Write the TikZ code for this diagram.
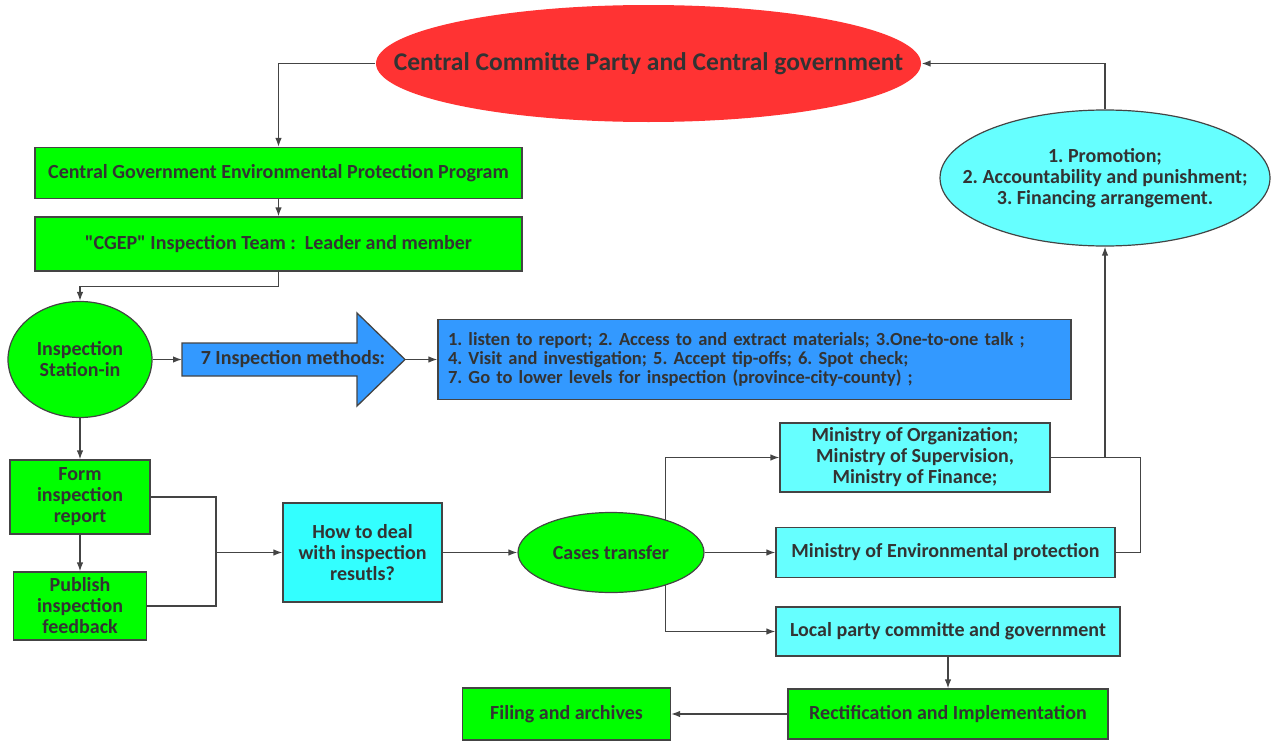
\documentclass[tikz,border=0pt]{standalone}
\usepackage{fontspec}
\setmainfont{Carlito}[Ligatures=TeXOff]
\usepackage{xcolor}
\usetikzlibrary{arrows.meta,shapes.geometric}
\definecolor{boxgreen}{HTML}{00FF00}
\definecolor{ovalred}{HTML}{FF3333}
\definecolor{methodblue}{HTML}{3399FF}
\definecolor{howcyan}{HTML}{33FFFF}
\definecolor{unitcyan}{HTML}{66FFFF}
\definecolor{linegray}{HTML}{444444}
\definecolor{txtgray}{HTML}{333333}
\frenchspacing
\tikzset{
	label text/.style={
			align=center, inner sep=0pt, text=txtgray,
			font=\bfseries\fontsize{20}{21}\selectfont
		},
	box/.style={label text, draw=linegray, line width=1.2pt},
	greenbox/.style={box, fill=boxgreen},
	cyanbox/.style={box, fill=unitcyan},
	oval/.style={box, ellipse},
	line/.style={draw=linegray, line width=1.3pt},
	link/.style={line, -{Latex[length=9pt,width=6.5pt]}}
}

\begin{document}
\begin{tikzpicture}[x=1pt, y=-1pt]
	\useasboundingbox (0,0) rectangle (1274,744);

	% Top level
	\node[oval, draw=none, fill=ovalred, minimum width=545, minimum height=117] (cgov) at (648.5,63.5) {};
	\node[label text, font=\bfseries\fontsize{25.5}{27}\selectfont] (cgovtext) at (cgov)
		{Central Committe Party and Central government};
	\node[oval, fill=unitcyan, minimum width=330, minimum height=136] (reward) at (1105,178) {};
	\node[label text] (rewardtext) at (reward)
		{1. Promotion;\\2. Accountability and punishment;\\3. Financing arrangement.};

	% Program and team
	\node[greenbox, minimum width=487, minimum height=51] (prog) at (278.5,173)
		{Central Government Environmental Protection Program};
	\node[greenbox, minimum width=487, minimum height=54] (team) at (278.5,244)
		{"CGEP" Inspection Team :~~Leader and member};

	% Station-in and methods
	\node[oval, fill=boxgreen, minimum width=144, minimum height=116] (station) at (80,359.5)
		{Inspection\\Station-in};
	\filldraw[line, fill=methodblue] (182,343) -- (357,343) -- (357,313) -- (405,359.5)
		-- (357,406) -- (357,376) -- (182,376) -- cycle;
	\coordinate (mtail) at (182,359.5);
	\coordinate (mtip) at (405,359.5);
	\node[label text] (methods) at (293,359.5) {7 Inspection methods:};
	\node[box, fill=methodblue, minimum width=633, minimum height=80, text width=613,
		inner xsep=10pt, align=left, font=\bfseries\fontsize{18.5}{19}\selectfont] (list) at (754.5,359.5)
		{1. listen to report; 2. Access to and extract materials; 3.One-to-one talk ;\\
			4. Visit and investigation; 5. Accept tip-offs; 6. Spot check;\\
			7. Go to lower levels for inspection (province-city-county) ;};

	% Report and feedback
	\node[greenbox, minimum width=140, minimum height=74] (form) at (80,497)
		{Form\\inspection\\report};
	\node[greenbox, minimum width=133, minimum height=68] (publish) at (80,606)
		{Publish\\inspection\\feedback};
	\coordinate (jn) at (216,552.5);
	\node[box, fill=howcyan, minimum width=159, minimum height=99] (how) at (362.5,552.5)
		{How to deal\\with inspection\\resutls?};
	\node[oval, fill=boxgreen, minimum width=186, minimum height=80] (cases) at (611,552.5)
		{Cases transfer};

	% Receiving units
	\node[cyanbox, minimum width=270, minimum height=69] (org) at (915,457.5)
		{Ministry of Organization;\\Ministry of Supervision,\\Ministry of Finance;};
	\node[cyanbox, minimum width=339, minimum height=50] (env) at (945.5,552.5)
		{Ministry of Environmental protection};
	\node[cyanbox, minimum width=344, minimum height=49] (local) at (948,631.5)
		{Local party committe and government};
	\node[greenbox, minimum width=320, minimum height=50] (rect) at (948,714)
		{Rectification and Implementation};
	\node[greenbox, minimum width=208, minimum height=52] (filing) at (566.5,714)
		{Filing and archives};
	\coordinate (jr) at (1105,457.5);

	% Connectors
	\draw[link] (cgov.west) -| (prog.north);
	\draw[link] (prog.south) -- (team.north);
	\draw[link] (team.south) -- ++(0,15) -| (station.north);
	\draw[link] (station.east) -- (mtail);
	\draw[link] (mtip) -- (list.west);
	\draw[link] (station.south) -- (form.north);
	\draw[link] (form.south) -- (publish.north);
	\draw[line] (form.east) -| (jn);
	\draw[line] (publish.east) -| (jn);
	\draw[link] (jn) -- (how.west);
	\draw[link] (how.east) -- (cases.west);
	\draw[link] (cases.31) |- (org.west);
	\draw[link] (cases.east) -- (env.west);
	\draw[link] (cases.-31) |- (local.west);
	\draw[line] (org.east) -- (jr);
	\draw[line] (env.east) -- ++(25,0) |- (jr);
	\draw[link] (jr) -- (reward.south);
	\draw[link] (reward.north) |- (cgov.east);
	\draw[link] (local.south) -- (rect.north);
	\draw[link] (rect.west) -- (filing.east);
\end{tikzpicture}
\end{document}
